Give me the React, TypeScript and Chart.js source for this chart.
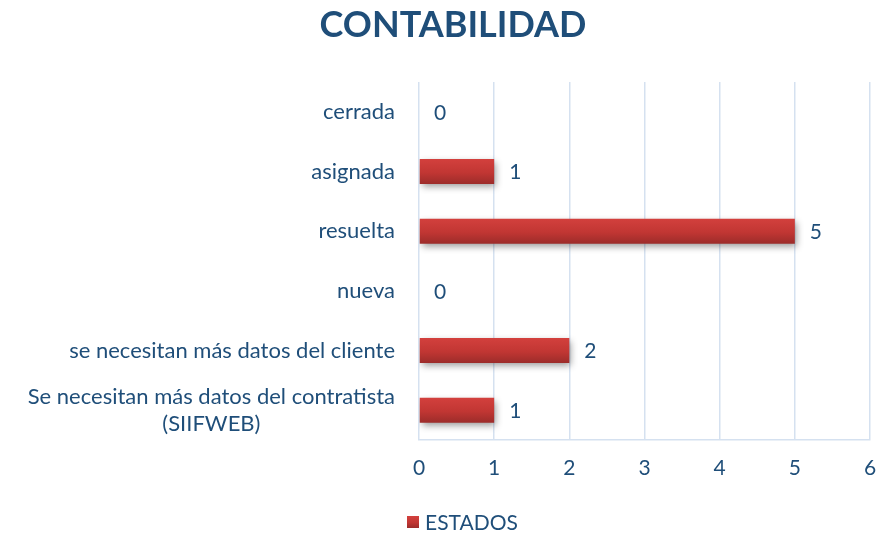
import React, { useEffect, useRef } from "react";
import { Chart, registerables } from "chart.js";

Chart.register(...registerables);

const TITLE = "CONTABILIDAD";
const SERIES_NAME = "ESTADOS";
const CATEGORIES: (string | string[])[] = [
  "cerrada",
  "asignada",
  "resuelta",
  "nueva",
  "se necesitan más datos del cliente",
  ["Se necesitan más datos del contratista", "(SIIFWEB)"],
];
const VALUES = [0, 1, 5, 0, 2, 1];
const X_MIN = 0;
const X_MAX = 6;
const X_STEP = 1;

const W = 887;
const H = 535;
const TEXT_BLUE = "#1F4E79";
const GRID_BLUE = "#D5E1F0";
const FONT = "Lato, 'Open Sans', sans-serif";

function barGradient(ctx: CanvasRenderingContext2D, top: number, bottom: number) {
  const g = ctx.createLinearGradient(0, top, 0, bottom);
  g.addColorStop(0, "#D3403D");
  g.addColorStop(0.55, "#C13633");
  g.addColorStop(1, "#9C2C2A");
  return g;
}

const barStylePlugin = {
  id: "barStyle",
  beforeDatasetsDraw(chart: any) {
    const ctx = chart.ctx;
    const meta = chart.getDatasetMeta(0);
    meta.data.forEach((el: any) => {
      const h = el.height || 25;
      const g = barGradient(ctx, el.y - h / 2, el.y + h / 2);
      el.options = Object.assign({}, el.options, { backgroundColor: g });
    });
  },
  beforeDatasetDraw(chart: any) {
    const ctx = chart.ctx;
    ctx.save();
    ctx.shadowColor = "rgba(0,0,0,0.4)";
    ctx.shadowBlur = 7;
    ctx.shadowOffsetX = 2;
    ctx.shadowOffsetY = 3;
  },
  afterDatasetDraw(chart: any) {
    chart.ctx.restore();
  },
};

const labelsPlugin = {
  id: "valueLabels",
  afterDatasetsDraw(chart: any) {
    const ctx = chart.ctx;
    const meta = chart.getDatasetMeta(0);
    ctx.save();
    ctx.font = `21px ${FONT}`;
    ctx.fillStyle = TEXT_BLUE;
    ctx.textAlign = "left";
    ctx.textBaseline = "middle";
    meta.data.forEach((el: any, i: number) => {
      ctx.fillText(String(VALUES[i]), el.x + 15, el.y + 1);
    });
    ctx.restore();
  },
};

const textPlugin = {
  id: "texts",
  afterDraw(chart: any) {
    const ctx = chart.ctx;
    const y = chart.scales.y;
    const right = chart.chartArea.left - 24;
    const lineH = 27;
    ctx.save();
    // title
    ctx.font = `bold 36px ${FONT}`;
    ctx.fillStyle = TEXT_BLUE;
    ctx.textAlign = "center";
    ctx.textBaseline = "middle";
    ctx.fillText(TITLE, 453, 25);
    // category labels
    ctx.font = `22px ${FONT}`;
    CATEGORIES.forEach((lab, i) => {
      const lines = Array.isArray(lab) ? lab : [lab];
      const maxW = Math.max(...lines.map((l) => ctx.measureText(l).width));
      const cx = right - maxW / 2;
      const cy = y.getPixelForValue(i);
      const startY = cy - ((lines.length - 1) * lineH) / 2;
      lines.forEach((l, k) => ctx.fillText(l, cx, startY + k * lineH));
    });
    // legend
    const ly = 522;
    ctx.fillStyle = barGradient(ctx, ly - 6, ly + 6);
    ctx.fillRect(407, ly - 6, 12, 12);
    ctx.fillStyle = TEXT_BLUE;
    ctx.font = `21px ${FONT}`;
    ctx.textAlign = "left";
    ctx.fillText(SERIES_NAME, 425, ly + 1);
    ctx.restore();
  },
};

export default function App() {
  const ref = useRef<HTMLCanvasElement>(null);
  document.body.style.margin = "0";
  useEffect(() => {
    const chart = new Chart(ref.current as HTMLCanvasElement, {
      type: "bar",
      data: {
        labels: CATEGORIES,
        datasets: [
          {
            label: SERIES_NAME,
            data: VALUES,
            backgroundColor: "#C43734",
            barPercentage: 0.84,
            categoryPercentage: 0.5,
          },
        ],
      },
      options: {
        indexAxis: "y",
        animation: false,
        responsive: false,
        maintainAspectRatio: false,
        layout: { padding: { left: 0, right: 17, top: 82, bottom: 26 } },
        scales: {
          x: {
            min: X_MIN,
            max: X_MAX,
            ticks: {
              stepSize: X_STEP,
              color: TEXT_BLUE,
              font: { size: 21, family: FONT },
              padding: 0,
            },
            grid: {
              color: GRID_BLUE,
              lineWidth: 1.5,
              drawTicks: true,
              tickLength: 16,
              tickColor: "rgba(0,0,0,0)",
            },
            border: { color: GRID_BLUE, width: 1.5 },
            afterFit(scale: any) {
              scale.height = 69;
            },
          },
          y: {
            ticks: { display: false },
            grid: { display: false },
            border: { display: false },
            afterFit(scale: any) {
              scale.width = 419;
            },
          },
        },
        plugins: {
          title: { display: false },
          legend: { display: false },
          tooltip: { enabled: false },
        },
      },
      plugins: [barStylePlugin, labelsPlugin, textPlugin],
    });
    return () => chart.destroy();
  }, []);
  return (
    <div style={{ width: W, height: H, overflow: "hidden" }}>
      <canvas ref={ref} width={W} height={H} style={{ display: "block" }} />
    </div>
  );
}
